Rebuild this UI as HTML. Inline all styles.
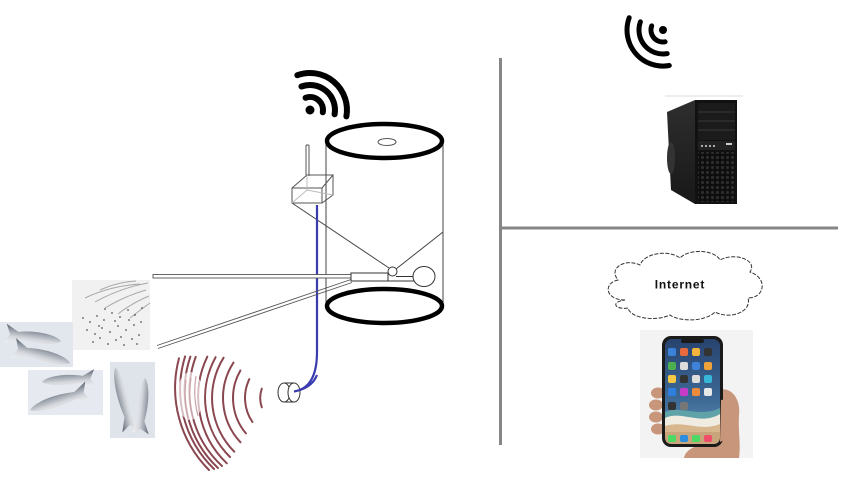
<!DOCTYPE html>
<html>
<head>
<meta charset="utf-8">
<style>
  html,body{margin:0;padding:0;background:#fff;}
  body{width:864px;height:486px;overflow:hidden;}
  svg{display:block;}
</style>
</head>
<body>
<svg width="864" height="486" viewBox="0 0 864 486" xmlns="http://www.w3.org/2000/svg">
  <defs>
    <linearGradient id="fishg" x1="0" y1="0" x2="0" y2="1">
      <stop offset="0" stop-color="#5a616b"/>
      <stop offset="0.3" stop-color="#9da3ac"/>
      <stop offset="0.6" stop-color="#d4d7dc"/>
      <stop offset="1" stop-color="#f2f3f5"/>
    </linearGradient>
    <linearGradient id="scr" x1="0" y1="0" x2="0" y2="1">
      <stop offset="0" stop-color="#27436e"/>
      <stop offset="0.6" stop-color="#3f6b98"/>
      <stop offset="1" stop-color="#6a9bb8"/>
    </linearGradient>
    <linearGradient id="side" x1="0" y1="0" x2="0" y2="1">
      <stop offset="0" stop-color="#2e2e2e"/>
      <stop offset="1" stop-color="#181818"/>
    </linearGradient>
    <pattern id="hex" x="0" y="0" width="5" height="5" patternUnits="userSpaceOnUse">
      <rect width="5" height="5" fill="#0d0d0d"/>
      <circle cx="2.5" cy="2.5" r="1.6" fill="#2c2c2c"/>
    </pattern>
    <path id="fish" d="M52,0 C47,-5 30,-6.5 14,-3 L3,-8.5 L7,0 L3,8.5 L14,3 C30,5.5 47,4.5 52,0 Z"/>
  </defs>

  <!-- Dividers -->
  <line x1="500.5" y1="58" x2="500.5" y2="445" stroke="#868686" stroke-width="3"/>
  <line x1="502" y1="228" x2="838" y2="228" stroke="#868686" stroke-width="3"/>

  <!-- Left wifi icon -->
  <g fill="none" stroke="#000" stroke-width="6" stroke-linecap="round">
    <path d="M305.55,97.78 A13,13 0 0 1 322.8,112.26"/>
    <path d="M301.45,86.5 A25,25 0 0 1 334.6,114.3"/>
    <path d="M297.35,75.2 A37,37 0 0 1 346.4,116.4"/>
  </g>
  <circle cx="310" cy="110" r="4.5" fill="#000"/>

  <!-- Right wifi icon -->
  <g fill="none" stroke="#000" stroke-width="5" stroke-linecap="round">
    <path d="M665.1,41.8 A12,12 0 0 1 651.7,25.9"/>
    <path d="M667.2,53.6 A24,24 0 0 1 640.4,21.8"/>
    <path d="M669.3,65.5 A36,36 0 0 1 629.2,17.7"/>
  </g>
  <circle cx="663" cy="30" r="4" fill="#000"/>

  <!-- Cylinder -->
  <line x1="326" y1="141" x2="326" y2="306" stroke="#444" stroke-width="1"/>
  <line x1="443" y1="141" x2="443" y2="306" stroke="#444" stroke-width="1"/>
  <line x1="292" y1="203" x2="389" y2="268" stroke="#444" stroke-width="1"/>
  <line x1="443" y1="232" x2="396" y2="269" stroke="#444" stroke-width="1"/>

  <!-- Blue cable -->
  <path d="M317,205 L317,352 Q317,388 294,391.5" fill="none" stroke="#3b3bb0" stroke-width="2.2"/>

  <!-- Horizontal rod -->
  <rect x="153" y="274.5" width="198" height="3.5" fill="#fff" stroke="#555" stroke-width="0.9"/>
  <!-- Diagonal rod -->
  <line x1="351" y1="279.5" x2="157" y2="345.5" stroke="#555" stroke-width="0.9"/>
  <line x1="352" y1="282.5" x2="158" y2="348.5" stroke="#555" stroke-width="0.9"/>

  <!-- Sensor -->
  <rect x="351" y="273" width="37" height="8" fill="#fff" stroke="#333" stroke-width="1"/>
  <line x1="396" y1="276.5" x2="413" y2="276.5" stroke="#333" stroke-width="1"/>
  <line x1="388" y1="281" x2="414" y2="281" stroke="#333" stroke-width="1"/>
  <circle cx="392.5" cy="271.5" r="4.5" fill="#fff" stroke="#333" stroke-width="1"/>
  <ellipse cx="424" cy="276.5" rx="11" ry="10" fill="#fff" stroke="#333" stroke-width="1"/>

  <!-- Cylinder ellipses -->
  <ellipse cx="384.5" cy="141" rx="57.5" ry="17" fill="#fff" stroke="#000" stroke-width="4.5"/>
  <ellipse cx="387" cy="142" rx="9" ry="3.5" fill="none" stroke="#555" stroke-width="1"/>
  <ellipse cx="384.5" cy="306" rx="57.5" ry="17" fill="#fff" stroke="#000" stroke-width="4.5"/>

  <!-- Antenna box -->
  <g fill="none" stroke="#555" stroke-width="1">
    <line x1="306" y1="145" x2="306" y2="176"/>
    <line x1="309" y1="145" x2="309" y2="176"/>
    <line x1="306" y1="145" x2="309" y2="145"/>
    <path d="M292,188 L322,188 L322,203 L292,203 Z"/>
    <path d="M292,188 L307,175 L333,175 L322,188"/>
    <path d="M333,175 L333,195 L322,203"/>
    <line x1="307" y1="175" x2="307" y2="190" stroke="#bbb"/>
    <line x1="307" y1="190" x2="333" y2="195" stroke="#bbb"/>
    <line x1="292" y1="203" x2="307" y2="190" stroke="#bbb"/>
  </g>

  <!-- Hydrophone -->
  <g fill="#fff" stroke="#333" stroke-width="1">
    <path d="M284,383 L294,383 L294,402 L284,402"/>
    <ellipse cx="284" cy="392.5" rx="6" ry="9.5"/>
    <ellipse cx="294" cy="392.5" rx="6" ry="9.5"/>
  </g>
  <path d="M317,375 Q312,388 294,391.5" fill="none" stroke="#3b3bb0" stroke-width="2.2"/>

  <!-- Sonar arcs -->
  <g fill="none" stroke="#8a4750" stroke-width="2" stroke-linecap="round">
    <path d="M261.8,388.7 A28,28 0 0 0 261.8,407.3"/>
    <path d="M249.3,379.2 A43,43 0 0 0 252.4,422"/>
    <path d="M240.4,370.5 A55,55 0 0 0 245.9,433.4"/>
    <path d="M233.5,362.6 A65,65 0 0 0 240.5,442.3"/>
    <path d="M223.6,357.7 A76,76 0 0 0 234.3,451.7"/>
    <path d="M215.6,357.2 A83,83 0 0 0 230,457"/>
    <path d="M207.3,356.7 A92,92 0 0 0 226.8,463.3"/>
    <path d="M195.7,356.9 A101,101 0 0 0 222,466"/>
    <path d="M190.4,356.6 A106,106 0 0 0 218,468"/>
    <path d="M185.1,356.4 A111,111 0 0 0 214,469"/>
    <path d="M179,358.3 A116,116 0 0 0 209,470"/>
  </g>
  <ellipse cx="190" cy="396" rx="13" ry="24" fill="#fff" opacity="0.65"/>
  <g fill="none" stroke="#c9a3a8" stroke-width="1.2">
    <path d="M196,376 A96,96 0 0 0 198,416"/>
    <path d="M191,378 A100,100 0 0 0 193,418"/>
    <path d="M186,380 A104,104 0 0 0 188,418"/>
  </g>

  <!-- Dots image -->
  <rect x="72" y="280" width="78" height="70" fill="#f1f1f1"/>
  <g fill="none" stroke="#a8a8a8" stroke-width="1">
    <path d="M148,283 Q120,288 95,302"/>
    <path d="M146,290 Q125,296 105,308"/>
    <path d="M149,296 Q132,303 118,314"/>
    <path d="M140,284 Q110,286 85,298"/>
    <path d="M150,303 Q140,310 130,318"/>
    <path d="M136,281 Q118,282 100,290"/>
  </g>
  <g fill="#555">
    <circle cx="83" cy="318" r="0.9"/><circle cx="90" cy="322" r="0.9"/><circle cx="97" cy="316" r="0.9"/>
    <circle cx="104" cy="320" r="0.9"/><circle cx="112" cy="313" r="0.9"/><circle cx="120" cy="317" r="0.9"/>
    <circle cx="128" cy="310" r="0.9"/><circle cx="135" cy="315" r="0.9"/><circle cx="142" cy="308" r="0.9"/>
    <circle cx="87" cy="330" r="0.9"/><circle cx="95" cy="334" r="0.9"/><circle cx="102" cy="328" r="0.9"/>
    <circle cx="110" cy="332" r="0.9"/><circle cx="118" cy="326" r="0.9"/><circle cx="126" cy="330" r="0.9"/>
    <circle cx="134" cy="325" r="0.9"/><circle cx="141" cy="322" r="0.9"/><circle cx="93" cy="342" r="0.9"/>
    <circle cx="100" cy="338" r="0.9"/><circle cx="108" cy="344" r="0.9"/><circle cx="116" cy="340" r="0.9"/>
    <circle cx="124" cy="345" r="0.9"/><circle cx="132" cy="339" r="0.9"/><circle cx="139" cy="335" r="0.9"/>
    <circle cx="115" cy="321" r="0.9"/><circle cx="121" cy="337" r="0.9"/><circle cx="105" cy="309" r="0.9"/>
    <circle cx="99" cy="326" r="0.9"/><circle cx="129" cy="320" r="0.9"/><circle cx="137" cy="344" r="0.9"/>
  </g>

  <!-- Fish images -->
  <rect x="0" y="322" width="73" height="45" fill="#e2e6ed"/>
  <use href="#fish" fill="url(#fishg)" transform="translate(2,333) rotate(8) scale(1.15)"/>
  <use href="#fish" fill="url(#fishg)" transform="translate(10,347) rotate(15) scale(1.2)"/>

  <rect x="28" y="370" width="75" height="45" fill="#e6e9ef"/>
  <use href="#fish" fill="url(#fishg)" transform="translate(98,378) rotate(176) scale(1.08,-1.08)"/>
  <use href="#fish" fill="url(#fishg)" transform="translate(92,390) rotate(162) scale(1.25,-1.2)"/>

  <rect x="110" y="362" width="45" height="76" fill="#dfe3ea"/>
  <use href="#fish" fill="url(#fishg)" transform="translate(132,434) rotate(-104) scale(1.32,1.05)"/>
  <use href="#fish" fill="url(#fishg)" transform="translate(140,437) rotate(-85) scale(1.14,-1)"/>

  <!-- Computer tower -->
  <line x1="665" y1="96" x2="743" y2="96" stroke="#dcdcdc" stroke-width="1"/>
  <polygon points="667,112 695,100 695,204 671,190" fill="url(#side)"/>
  <ellipse cx="671" cy="158" rx="4" ry="16" fill="#333"/>
  <rect x="695" y="100" width="42" height="104" fill="#111"/>
  <rect x="698" y="103" width="37" height="37" fill="#1b1b1b"/>
  <line x1="698" y1="112" x2="735" y2="112" stroke="#3a3a3a" stroke-width="1"/>
  <line x1="698" y1="121" x2="735" y2="121" stroke="#3a3a3a" stroke-width="1"/>
  <line x1="698" y1="130" x2="735" y2="130" stroke="#3a3a3a" stroke-width="1"/>
  <rect x="698" y="141" width="37" height="9" fill="#222"/>
  <g fill="#aaa">
    <rect x="701" y="145" width="2" height="2"/><rect x="705" y="145" width="2" height="2"/>
    <rect x="709" y="145" width="2" height="2"/><rect x="713" y="145" width="2" height="2"/>
    <rect x="726" y="143" width="6" height="2" fill="#ccc"/>
  </g>
  <rect x="698" y="152" width="37" height="50" fill="url(#hex)"/>

  <!-- Internet cloud -->
  <path d="M625,300 C605,300 603,283 618,280 C608,268 625,258 640,265 C645,252 670,250 680,258 C690,248 715,250 720,260 C735,252 758,260 750,272 C768,278 765,298 748,298 C752,312 730,320 715,312 C705,322 680,322 670,315 C655,322 630,318 628,308 C615,310 610,302 625,300 Z"
        fill="#fff" stroke="#333" stroke-width="1" stroke-dasharray="4 1.5"/>
  <text x="680" y="288.5" text-anchor="middle" font-family="Liberation Sans, sans-serif" font-weight="bold" font-size="12" letter-spacing="0.8" fill="#111">Internet</text>

  <!-- Phone image -->
  <rect x="640" y="330" width="113" height="128" fill="#f3f3f3"/>
  <g fill="#c8967a">
    <ellipse cx="658" cy="393" rx="7" ry="5.5"/>
    <ellipse cx="656" cy="405" rx="7" ry="5.5"/>
    <ellipse cx="656" cy="417" rx="7" ry="5.5"/>
    <ellipse cx="658" cy="429" rx="7" ry="5.5"/>
    <path d="M718,390 C732,386 741,400 739,415 C738,430 741,445 739,458 L684,458 C686,448 698,444 718,442 Z"/>
  </g>
  <rect x="662" y="336" width="61" height="111" rx="9" fill="#1a1a1a"/>
  <rect x="665" y="339" width="55" height="105" rx="7" fill="url(#scr)"/>
  <rect x="681" y="339" width="23" height="4" rx="2" fill="#1a1a1a"/>
  <path d="M665,412 C680,405 700,418 720,408 L720,437 L665,437 Z" fill="#5fa3a8"/>
  <path d="M665,418 C682,410 700,426 720,414 L720,437 L665,437 Z" fill="#f1ece2"/>
  <path d="M665,426 C684,420 700,432 720,424 L720,437 L665,437 Z" fill="#d9b78e"/>
  <path d="M665,432 L720,432 L720,437 Q720,444 713,444 L672,444 Q665,444 665,437 Z" fill="#c9a57c"/>
  <g>
    <rect x="668" y="348" width="8" height="8" rx="2" fill="#3b82d8"/>
    <rect x="680" y="348" width="8" height="8" rx="2" fill="#e86a3c"/>
    <rect x="692" y="348" width="8" height="8" rx="2" fill="#f2b43a"/>
    <rect x="704" y="348" width="8" height="8" rx="2" fill="#333"/>
    <rect x="668" y="362" width="8" height="8" rx="2" fill="#4caf50"/>
    <rect x="680" y="362" width="8" height="8" rx="2" fill="#ddd"/>
    <rect x="692" y="362" width="8" height="8" rx="2" fill="#3b82d8"/>
    <rect x="704" y="362" width="8" height="8" rx="2" fill="#f2a23a"/>
    <rect x="668" y="375" width="8" height="8" rx="2" fill="#f6c945"/>
    <rect x="680" y="375" width="8" height="8" rx="2" fill="#333"/>
    <rect x="692" y="375" width="8" height="8" rx="2" fill="#ddd"/>
    <rect x="704" y="375" width="8" height="8" rx="2" fill="#37b6d8"/>
    <rect x="668" y="388" width="8" height="8" rx="2" fill="#2f7fe0"/>
    <rect x="680" y="388" width="8" height="8" rx="2" fill="#c63bc8"/>
    <rect x="692" y="388" width="8" height="8" rx="2" fill="#f08a3c"/>
    <rect x="704" y="388" width="8" height="8" rx="2" fill="#e8e8e8"/>
    <rect x="668" y="402" width="8" height="8" rx="2" fill="#333"/>
    <rect x="680" y="402" width="8" height="8" rx="2" fill="#777"/>
    <rect x="668" y="435" width="8" height="7" rx="2" fill="#4cd964"/>
    <rect x="680" y="435" width="8" height="7" rx="2" fill="#2b8de0"/>
    <rect x="692" y="435" width="8" height="7" rx="2" fill="#4cd964"/>
    <rect x="704" y="435" width="8" height="7" rx="2" fill="#f04e6a"/>
  </g>
  <path d="M721,400 C728,398 733,408 731,420 C730,432 726,440 720,442 Z" fill="#c8967a"/>
</svg>
</body>
</html>
